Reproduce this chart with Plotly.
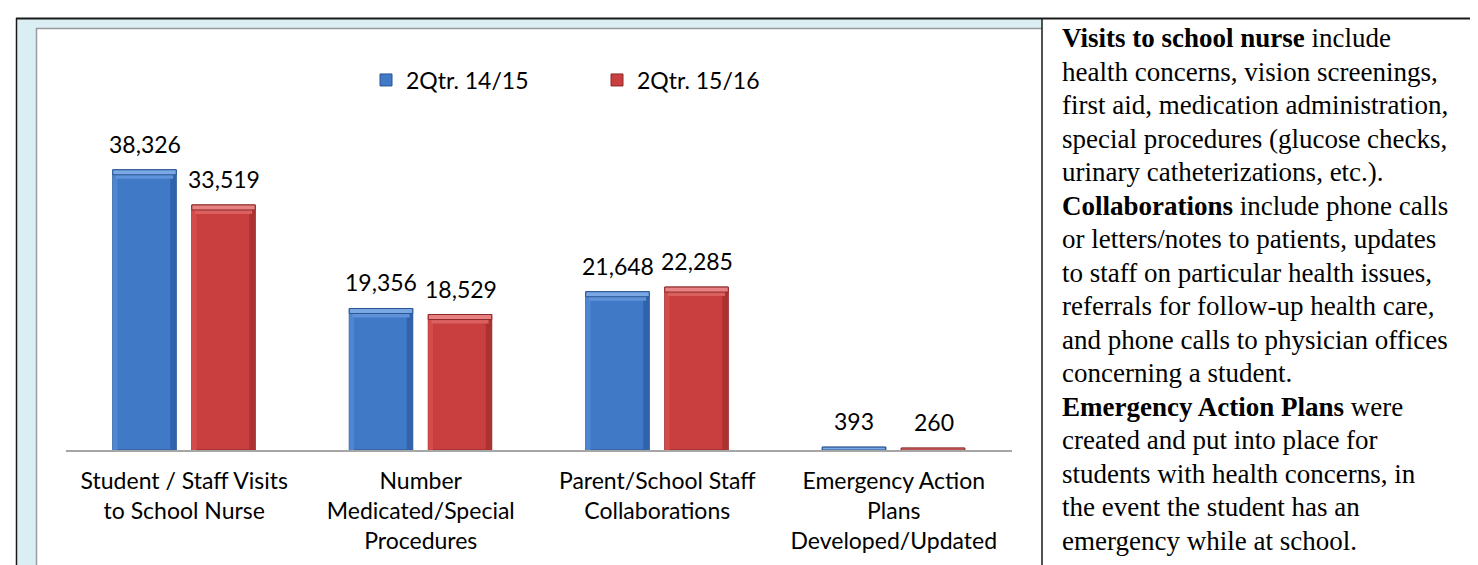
import plotly.graph_objects as go

# ---- data ----
categories = [
    "Student / Staff Visits<br>to School Nurse",
    "Number<br>Medicated/Special<br>Procedures",
    "Parent/School Staff<br>Collaborations",
    "Emergency Action<br>Plans<br>Developed/Updated",
]
series_names = ["2Qtr. 14/15", "2Qtr. 15/16"]
values_1415 = [38326, 19356, 21648, 393]
values_1516 = [33519, 18529, 22285, 260]

note_lines = [
    "<b>Visits to school nurse</b> include",
    "health concerns, vision screenings,",
    "first aid, medication administration,",
    "special procedures (glucose checks,",
    "urinary catheterizations, etc.).",
    "<b>Collaborations</b> include phone calls",
    "or letters/notes to patients, updates",
    "to staff on particular health issues,",
    "referrals for follow-up health care,",
    "and phone calls to physician offices",
    "concerning a student.",
    "<b>Emergency Action Plans</b> were",
    "created and put into place for",
    "students with health concerns, in",
    "the event the student has an",
    "emergency while at school.",
]

# ---- geometry (pixels) ----
W, H = 1478, 565
L, R = 58, 1004          # plot area left/right
T, B = 113, 442          # plot area top/bottom
PW, PH = R - L, B - T
YMAX = 45000
DIV_X = 1034             # divider between chart and notes

def px(x):
    return (x - L) / PW

def py(y):
    return (B - y) / PH

sans = "Lato, 'Open Sans', sans-serif"
serif = "'Liberation Serif', 'DejaVu Serif', serif"

styles = [
    dict(face="#4079C6", edge="#2A5590", top="#7AA8E4", top2="#5F92D8",
         right="#3163AB", left="#4D87D3"),
    dict(face="#C93F3F", edge="#8E2828", top="#E88282", top2="#DA6060",
         right="#AC3232", left="#D44B4B"),
]

cat_px = PW / len(categories)
bar_w = 63.5 / cat_px
offsets = [-71.5 / cat_px, 7.5 / cat_px]
side_w = 6 / cat_px
bevel_units = 5 / PH * YMAX
bevel2_units = 4 / PH * YMAX

fig = go.Figure()
all_series = [values_1415, values_1516]
for vals, name, st, off in zip(all_series, series_names, styles, offsets):
    fig.add_trace(go.Bar(
        x=categories, y=vals, name=name, width=bar_w, offset=off,
        marker=dict(color=st["face"], line=dict(color=st["edge"], width=1)),
    ))
for vals, st, off in zip(all_series, styles, offsets):
    # side shading (bevel)
    fig.add_trace(go.Bar(
        x=categories, y=vals, width=side_w, offset=off + bar_w - side_w,
        marker=dict(color=st["right"], line=dict(width=0)),
        showlegend=False, hoverinfo="skip",
    ))
    fig.add_trace(go.Bar(
        x=categories, y=vals, width=side_w * 0.8, offset=off,
        marker=dict(color=st["left"], line=dict(width=0)),
        showlegend=False, hoverinfo="skip",
    ))
    # top highlight (bevel), two tones
    tops = [min(bevel_units + bevel2_units, v) for v in vals]
    fig.add_trace(go.Bar(
        x=categories, y=tops, base=[v - t for v, t in zip(vals, tops)],
        width=bar_w * 0.9, offset=off + bar_w * 0.05,
        marker=dict(color=st["top2"], line=dict(width=0)),
        showlegend=False, hoverinfo="skip",
    ))
    tops1 = [min(bevel_units, v) for v in vals]
    fig.add_trace(go.Bar(
        x=categories, y=tops1, base=[v - t for v, t in zip(vals, tops1)],
        width=bar_w, offset=off,
        marker=dict(color=st["top"], line=dict(color=st["edge"], width=1)),
        showlegend=False, hoverinfo="skip",
    ))

annotations = []
for vals, shift in ((values_1415, -39.75), (values_1516, 39.75)):
    for c, v in zip(categories, vals):
        annotations.append(dict(
            x=c, y=v, xref="x", yref="y", text=f"{v:,}", showarrow=False,
            xshift=shift, yshift=10, yanchor="bottom", xanchor="center",
            font=dict(family=sans, size=23, color="#000000"),
        ))

LINE_H = 33.5
for i, line in enumerate(note_lines):
    annotations.append(dict(
        x=px(DIV_X + 18), y=py(30 + LINE_H * i), xref="paper", yref="paper",
        text=line, showarrow=False, align="left",
        xanchor="left", yanchor="middle",
        font=dict(family=serif, size=27, color="#000000"),
    ))

shapes = [
    # light blue frame
    dict(type="rect", xref="paper", yref="paper", x0=px(9), x1=px(DIV_X),
         y0=py(11), y1=py(566), fillcolor="#DAEEF3", line=dict(width=0), layer="below"),
    # white inner panel
    dict(type="rect", xref="paper", yref="paper", x0=px(29), x1=px(DIV_X),
         y0=py(21), y1=py(562), fillcolor="#FFFFFF", line=dict(width=0), layer="below"),
    # gray inner borders
    dict(type="line", xref="paper", yref="paper", x0=px(28.5), x1=px(28.5),
         y0=py(20), y1=py(562), line=dict(color="#9A9A9A", width=1.5), layer="below"),
    dict(type="line", xref="paper", yref="paper", x0=px(28), x1=px(DIV_X),
         y0=py(20.5), y1=py(20.5), line=dict(color="#9A9A9A", width=1.5), layer="below"),
    # black outer lines
    dict(type="line", xref="paper", yref="paper", x0=px(8.5), x1=px(8.5),
         y0=py(10), y1=py(566), line=dict(color="#1A1A1A", width=1.5)),
    dict(type="line", xref="paper", yref="paper", x0=px(8), x1=px(1479),
         y0=py(10.5), y1=py(10.5), line=dict(color="#1A1A1A", width=2)),
    dict(type="line", xref="paper", yref="paper", x0=px(DIV_X), x1=px(DIV_X),
         y0=py(10), y1=py(566), line=dict(color="#1A1A1A", width=1.5)),
]

fig.update_layout(
    width=W, height=H,
    margin=dict(l=L, r=W - R, t=T, b=H - B, pad=0),
    paper_bgcolor="#FFFFFF", plot_bgcolor="rgba(0,0,0,0)",
    barmode="overlay",
    showlegend=True,
    legend=dict(
        orientation="h", x=px(358), y=py(72), xanchor="left", yanchor="middle",
        font=dict(family=sans, size=23, color="#000000"),
        bgcolor="rgba(0,0,0,0)", entrywidth=186, entrywidthmode="pixels",
        traceorder="normal",
    ),
    xaxis=dict(
        showline=True, linecolor="#A6A6A6", linewidth=1.5,
        showgrid=False, ticks="", zeroline=False,
        tickfont=dict(family=sans, size=23, color="#000000"),
        ticklabelstandoff=10, fixedrange=True,
    ),
    yaxis=dict(
        range=[0, YMAX], visible=False, showgrid=False, zeroline=False,
        fixedrange=True,
    ),
    annotations=annotations,
    shapes=shapes,
)

fig.write_html("out.html")
